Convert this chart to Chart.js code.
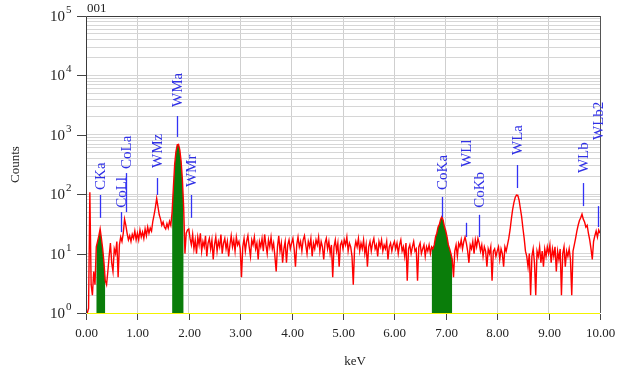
<!DOCTYPE html>
<html>
<head>
<meta charset="utf-8">
<script src="https://cdn.jsdelivr.net/npm/chart.js@4.4.0/dist/chart.umd.min.js"></script>
<style>
	html, body { margin: 0; padding: 0; background: #fff; }
	#box { width: 624px; height: 374px; position: relative; }
</style>
</head>
<body>
<div id="box"><canvas id="myChart"></canvas></div>
<script>
// spectrum counts, one value every 0.025 keV from 0.00 to 10.00
const keVStep = 0.025;
const counts = [
	// 0.00 - 0.975
	1, 1, 1.2, 108, 3, 2, 5, 3, 13, 16, 20, 26, 18, 12, 7, 3.5, 3, 5, 9, 15,
	7, 5, 12, 10, 16, 4, 14, 19, 16, 22, 38, 30, 22, 17, 20, 16, 21, 18, 24, 17,
	// 1.00 - 1.975
	22, 17, 25, 19, 23, 18, 26, 20, 28, 22, 27, 24, 35, 45, 60, 85, 62, 45, 38, 30,
	34, 28, 26, 32, 27, 35, 30, 50, 130, 320, 520, 680, 690, 560, 360, 180, 60, 10, 22, 25,
	// 2.00 - 2.975
	26, 18, 14, 21, 12, 17, 10, 19, 14, 22, 11, 16, 13, 20, 9, 15, 18, 12, 17, 8,
	14, 19, 11, 16, 13, 21, 10, 15, 18, 12, 16, 9, 14, 20, 13, 17, 11, 19, 14, 16,
	// 3.00 - 3.975
	12, 4, 13, 18, 11, 16, 20, 13, 9, 17, 14, 19, 12, 15, 8, 16, 13, 18, 11, 21,
	14, 10, 17, 13, 19, 12, 15, 9, 5, 13, 20, 11, 15, 7, 12, 16, 7, 14, 17, 12,
	// 4.00 - 4.975
	15, 18, 12, 6, 14, 19, 13, 16, 11, 17, 20, 14, 10, 16, 13, 18, 9, 15, 12, 17,
	14, 19, 11, 16, 13, 8, 15, 18, 12, 16, 10, 14, 4, 13, 17, 11, 15, 6, 14, 16,
	// 5.00 - 5.975
	12, 17, 14, 19, 11, 15, 13, 9, 3, 12, 16, 13, 18, 11, 15, 12, 17, 10, 14, 6,
	13, 16, 11, 15, 18, 12, 14, 9, 16, 13, 17, 11, 14, 12, 16, 8, 13, 15, 11, 14,
	// 6.00 - 6.975
	16, 12, 15, 10, 14, 17, 11, 13, 9, 15, 3.5, 12, 14, 10, 13, 16, 11, 12, 3.5, 13,
	15, 10, 12, 14, 9, 13, 11, 14, 10, 13, 12, 14, 19, 22, 28, 31, 38, 42, 36, 28,
	// 7.00 - 7.975
	24, 19, 14, 12, 10, 8, 4, 11, 14, 9, 15, 13, 17, 12, 16, 19, 15, 11, 7, 14,
	12, 16, 10, 17, 13, 18, 15, 11, 14, 9, 13, 11, 6, 12, 10, 13, 3.5, 11, 12, 9,
	// 8.00 - 8.975
	11, 13, 8, 12, 10, 6, 13, 11, 14, 18, 25, 38, 55, 72, 88, 97, 96, 80, 58, 42,
	27, 18, 11, 9, 6, 10, 2, 9, 12, 7, 2, 11, 9, 13, 7, 11, 6, 12, 9, 13,
	// 9.00 - 10.00
	10, 14, 7, 12, 9, 13, 5, 11, 8, 12, 2, 10, 13, 6, 11, 9, 12, 8, 2, 11,
	14, 18, 24, 30, 36, 40, 46, 38, 34, 28, 30, 22, 17, 12, 8, 16, 20, 24, 19, 25,
	22
];

// shaded peak windows (keV)
const greenFrom = [0.2, 1.675, 6.725];
const greenTo = [0.375, 1.9, 7.125];

// peak labels: energy, marker low/high and text start (counts)
const peakNames = ["CKa", "CoLl", "CoLa", "WMz", "WMa", "WMr", "CoKa", "WLl", "CoKb", "WLa", "WLb", "WLb2"];
const peakKeV = [0.27, 0.68, 0.78, 1.38, 1.78, 2.04, 6.93, 7.39, 7.65, 8.39, 9.67, 9.96];
const markLow = [40, 23, 50, 97, 920, 40, 41, 19, 19, 127, 63, 28];
const markHigh = [97, 50, 227, 187, 2070, 97, 90, 33, 45, 310, 154, 63];
const textAt = [118, 59, 266, 276, 2940, 132, 118, 287, 59, 457, 227, 817];

const xTicks = [0, 1, 2, 3, 4, 5, 6, 7, 8, 9, 10];
const decades = [0, 1, 2, 3, 4, 5];

const serif = "'Liberation Serif', 'Times New Roman', serif";

const spectrum = counts.map((c, i) => ({ x: +(i * keVStep).toFixed(3), y: c }));
const shaded = spectrum.map(p => {
	let inside = greenFrom.some((f, k) => p.x >= f - 1e-6 && p.x <= greenTo[k] + 1e-6);
	return { x: p.x, y: inside ? p.y : null };
});

const axesPlugin = {
	id: "axesPlugin",
	afterDatasetsDraw(chart) {
		const ctx = chart.ctx;
		const xs = chart.scales.x;
		const ys = chart.scales.y;
		const a = chart.chartArea;
		ctx.save();

		// frame
		ctx.lineWidth = 1;
		ctx.strokeStyle = "#3a3a3a";
		ctx.beginPath();
		ctx.moveTo(a.left + 0.5, a.bottom);
		ctx.lineTo(a.left + 0.5, a.top + 0.5);
		ctx.lineTo(a.right, a.top + 0.5);
		ctx.stroke();
		ctx.strokeStyle = "#555";
		ctx.beginPath();
		ctx.moveTo(a.right + 0.5, a.top);
		ctx.lineTo(a.right + 0.5, a.bottom);
		ctx.stroke();
		ctx.strokeStyle = "#f2f200";
		ctx.beginPath();
		ctx.moveTo(a.left + 1, a.bottom + 0.5);
		ctx.lineTo(a.right, a.bottom + 0.5);
		ctx.stroke();

		// x ticks and labels
		ctx.strokeStyle = "#444";
		ctx.fillStyle = "#222";
		ctx.font = "13px " + serif;
		ctx.textAlign = "center";
		ctx.textBaseline = "middle";
		xTicks.forEach(v => {
			let px = Math.round(xs.getPixelForValue(v)) + 0.5;
			ctx.beginPath();
			ctx.moveTo(px, a.bottom + 1);
			ctx.lineTo(px, a.bottom + 7);
			ctx.stroke();
			ctx.fillText(v.toFixed(2), px, a.bottom + 21);
		});

		// y ticks and labels
		decades.forEach(d => {
			let py = Math.round(ys.getPixelForValue(Math.pow(10, d))) + 0.5;
			ctx.beginPath();
			ctx.moveTo(a.left - 9, py);
			ctx.lineTo(a.left, py);
			ctx.stroke();
			ctx.textAlign = "right";
			ctx.font = "15px " + serif;
			ctx.fillText("10", a.left - 21, py + 1);
			ctx.textAlign = "left";
			ctx.font = "11px " + serif;
			ctx.fillText(String(d), a.left - 20, py - 6);
		});

		// titles
		ctx.font = "13px " + serif;
		ctx.textAlign = "center";
		ctx.fillText("keV", 355, 362);
		ctx.textAlign = "left";
		ctx.fillText("001", a.left + 1, 9);
		ctx.save();
		ctx.translate(16, (a.top + a.bottom) / 2);
		ctx.rotate(-Math.PI / 2);
		ctx.textAlign = "center";
		ctx.fillText("Counts", 0, 0);
		ctx.restore();

		// peak markers
		ctx.strokeStyle = "#3232f5";
		ctx.fillStyle = "#2f2fe6";
		ctx.lineWidth = 1.3;
		ctx.font = "15px " + serif;
		peakNames.forEach((name, i) => {
			let px = Math.round(xs.getPixelForValue(peakKeV[i])) + 0.5;
			ctx.beginPath();
			ctx.moveTo(px, ys.getPixelForValue(markLow[i]));
			ctx.lineTo(px, ys.getPixelForValue(markHigh[i]));
			ctx.stroke();
			ctx.save();
			ctx.translate(px + 1, ys.getPixelForValue(textAt[i]));
			ctx.rotate(-Math.PI / 2);
			ctx.textAlign = "left";
			ctx.textBaseline = "middle";
			ctx.fillText(name, 0, 0);
			ctx.restore();
		});
		ctx.restore();
	},
};

const config = {
	type: "line",
	data: {
		datasets: [
			{
				label: "shaded",
				data: shaded,
				borderWidth: 0,
				borderColor: "rgba(0,0,0,0)",
				backgroundColor: "#0a7d0a",
				pointRadius: 0,
				fill: "start",
				spanGaps: false,
				order: 2,
			},
			{
				label: "spectrum",
				data: spectrum,
				borderColor: "#ff0000",
				borderWidth: 1.4,
				pointRadius: 0,
				fill: false,
				order: 1,
			},
		],
	},
	options: {
		responsive: false,
		animation: false,
		layout: { padding: { left: 86, top: 16, right: 24, bottom: 61 } },
		plugins: { legend: { display: false }, tooltip: { enabled: false } },
		scales: {
			x: {
				type: "linear",
				min: 0,
				max: 10,
				ticks: { display: false, stepSize: 1 },
				grid: { color: "#cfcfcf", drawTicks: false },
				border: { display: false },
			},
			y: {
				type: "logarithmic",
				min: 1,
				max: 100000,
				ticks: { display: false },
				grid: { color: "#d6d6d6", drawTicks: false },
				border: { display: false },
				afterBuildTicks: scale => {
					let t = [];
					decades.forEach(d => {
						for (let m = 1; m <= 9; m++) {
							let v = m * Math.pow(10, d);
							if (v <= 100000) t.push({ value: v });
						}
					});
					scale.ticks = t;
				},
			},
		},
	},
	plugins: [axesPlugin],
};

const canvas = document.getElementById("myChart");
canvas.width = 624;
canvas.height = 374;
let myChart = new Chart(canvas, config);
</script>
</body>
</html>
